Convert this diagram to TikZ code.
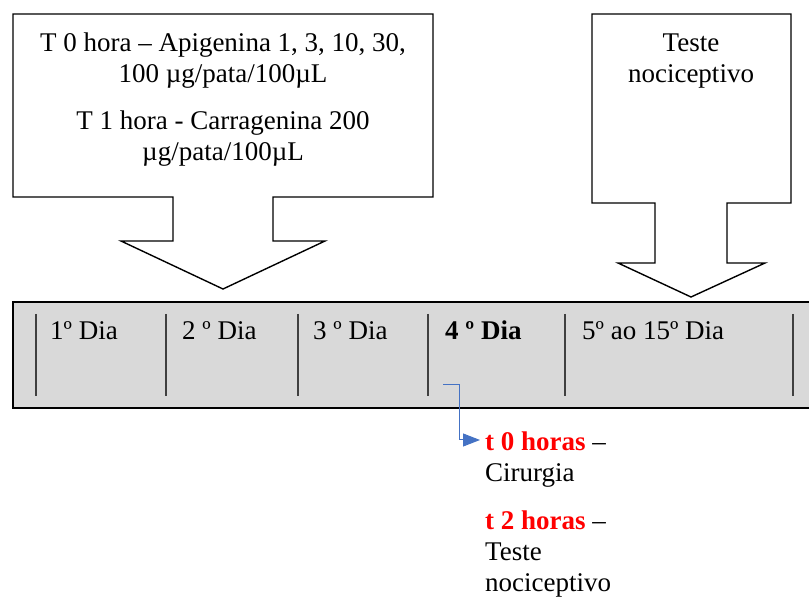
\documentclass[tikz,border=0pt]{standalone}
\usepackage{fontspec}
\setmainfont{Liberation Serif}
\usetikzlibrary{arrows.meta, positioning}
\definecolor{bargray}{HTML}{D9D9D9}
\definecolor{linkblue}{HTML}{4472C4}
\definecolor{hourred}{HTML}{FF0000}

\begin{document}
\begin{tikzpicture}[x=1pt, y=-1pt, every node/.style={font=\fontsize{27}{31}\selectfont, inner sep=0pt},
    callout/.style={draw, line width=1.4pt, fill=white, line join=miter},
    daybar/.style={draw, line width=2.6pt, fill=bargray},
    divider/.style={draw=black!75, line width=1.3pt},
    linkarrow/.style={draw=linkblue, line width=1pt, -{Triangle[length=17pt, width=13pt]}},
    hour/.style={text=hourred, font=\fontsize{27}{31}\selectfont\bfseries}]
    \useasboundingbox (0,0) rectangle (809,601);
    \clip (0,0) rectangle (809,601);

    % callouts
    \draw[callout] (13,14) -- (433,14) -- (433,197) -- (273,197) -- (273,241) -- (325,241) -- (223,289)
        -- (121,241) -- (173,241) -- (173,197) -- (13,197) -- cycle;
    \draw[callout] (592,14) -- (791,14) -- (791,203) -- (727,203) -- (727,263) -- (765,263) -- (691,297)
        -- (618,263) -- (655,263) -- (655,203) -- (592,203) -- cycle;

    \node (apig) [anchor=north, align=center] at (223,33) {T 0 hora -- Apigenina 1, 3, 10, 30,\\100 µg/pata/100µL};
    \node (carr) [anchor=north, align=center] at (223,111) {T 1 hora - Carragenina 200\\µg/pata/100µL};
    \node (teste) [anchor=north, align=center] at (691,34) {Teste\\nociceptivo};

    % timeline
    \draw[daybar] (13,302) rectangle (830,408);
    \foreach \x in {36,166,298,428,565,793}
        \draw[divider] (\x,314) -- (\x,396);

    \node (d1) [anchor=base west] at (50,340) {1º Dia};
    \node (d2) [anchor=base west] at (182,340) {2 º Dia};
    \node (d3) [anchor=base west] at (313,340) {3 º Dia};
    \node (d4) [anchor=base west, font=\fontsize{27}{31}\selectfont\bfseries] at (445,340) {4 º Dia};
    \node (d5) [anchor=base west] at (582,340) {5º ao 15º Dia};

    % 4th day detail
    \node (t0) [anchor=north west, align=left] at (485,432) {\textcolor{hourred}{\bfseries t 0 horas} --\\Cirurgia};
    \node (t2) [anchor=north west, align=left] at (485,511) {\textcolor{hourred}{\bfseries t 2 horas} --\\Teste\\nociceptivo};

    \coordinate (src) at (443,385);
    \coordinate (t0arr) at ([xshift=-5pt, yshift=-8pt]t0.north west);
    \draw[linkarrow] (src) -| ([xshift=-21pt]t0arr) -- (t0arr);
\end{tikzpicture}
\end{document}
